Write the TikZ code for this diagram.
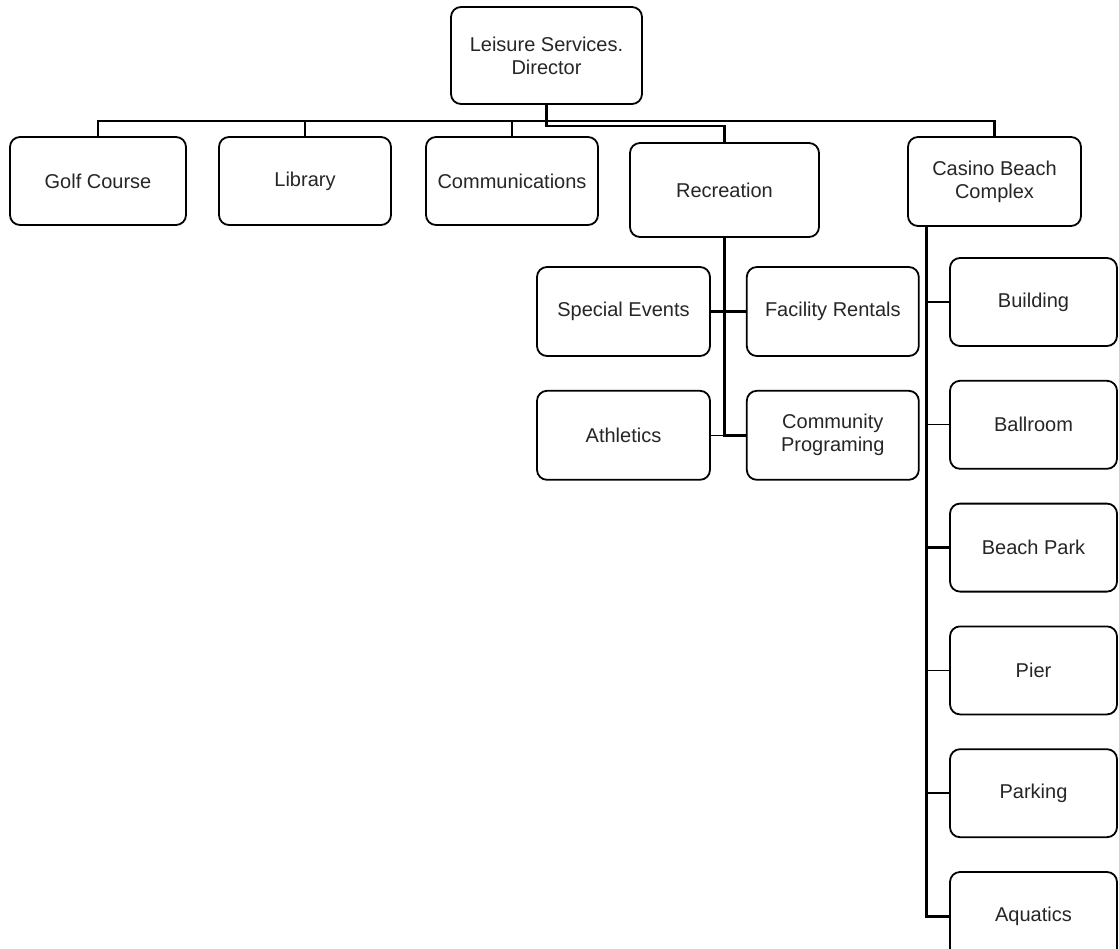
\documentclass[tikz,border=0pt]{standalone}
\usepackage{fontspec}
\setmainfont{Liberation Sans}
\usetikzlibrary{positioning}

\begin{document}
\begin{tikzpicture}[
    x=0.5pt, y=-0.5pt,
    % --- STYLES ---
    unit/.style={
        rectangle, rounded corners=5pt,
        draw=black, line width=0.9pt, fill=white,
        minimum width=86pt,
        minimum height=44pt,
        align=center, inner sep=2pt,
        text=black!85,
        font=\fontsize{10}{11.5}\selectfont
    },
    link/.style={line width=1.2pt, black},
    thinlink/.style={line width=0.5pt, black}
]

% page frame
\clip (0,0) rectangle (1119,948);

% ===== 1. TOP LEVEL =====
\node[unit, minimum width=95.5pt, minimum height=48.5pt] (director) at (546.5,55.5) {Leisure Services.\\ Director};

\node[unit, minimum width=88pt] (golf) at (98,181) {Golf Course};
\node[unit] (library) at (305,181) {Library\vphantom{C}};
\node[unit] (comms) at (512,181) {Communications};
\node[unit, minimum width=94.5pt, minimum height=47pt] (recreation) at (724.5,190) {Recreation};
\node[unit, minimum width=86.5pt, minimum height=44.5pt] (casino) at (994.5,181.5) {Casino Beach\\ Complex};

% ===== 2. RECREATION =====
\node[unit, minimum width=86.5pt, minimum height=44.5pt] (events) at (623.5,311.5) {Special Events};
\node[unit, minimum height=44.5pt, right=17.5pt of events] (rentals) {Facility Rentals};
\node[unit, minimum width=86.5pt, minimum height=44.5pt, below=16.5pt of events] (athletics) {Athletics};
\node[unit, minimum height=44.5pt, right=17.5pt of athletics] (community) {Community\\ Programing};

% ===== 3. CASINO BEACH COMPLEX =====
\node[unit, minimum width=83.5pt] (building) at (1033.5,302) {Building};
\node[unit, minimum width=83.5pt, below=16.5pt of building] (ballroom) {Ballroom};
\node[unit, minimum width=83.5pt, below=16.5pt of ballroom] (beachpark) {Beach Park};
\node[unit, minimum width=83.5pt, below=16.5pt of beachpark] (pier) {Pier};
\node[unit, minimum width=83.5pt, below=16.5pt of pier] (parking) {Parking};
\node[unit, minimum width=83.5pt, below=16.5pt of parking] (aquatics) {Aquatics};

% ===== 4. CONNECTIONS =====
\coordinate (bus) at (0,121);
\coordinate (recbus) at (0,126);
\coordinate (spine) at (926,0);

% main bus under the director
\draw[link] (golf.north) -- (golf.north |- bus) -- (casino.north |- bus) -- (casino.north);
\draw[link] (library.north) -- (library.north |- bus);
\draw[link] (comms.north) -- (comms.north |- bus);
\draw[link] (director.south) -- (director.south |- recbus) -- (recreation.north |- recbus) -- (recreation.north);

% recreation branch
\draw[link] (recreation.south) |- (community.west);
\draw[link] (events.east) -- (rentals.west);
\draw[thinlink] (athletics.east) -- (athletics.east -| recreation.south);

% casino branch
\draw[link, line width=1.5pt] (spine |- casino.south) |- (aquatics.west);
\draw[link] (spine |- building.west) -- (building.west);
\draw[thinlink] (spine |- ballroom.west) -- (ballroom.west);
\draw[link] (spine |- beachpark.west) -- (beachpark.west);
\draw[thinlink] (spine |- pier.west) -- (pier.west);
\draw[link] (spine |- parking.west) -- (parking.west);

\end{tikzpicture}
\end{document}
